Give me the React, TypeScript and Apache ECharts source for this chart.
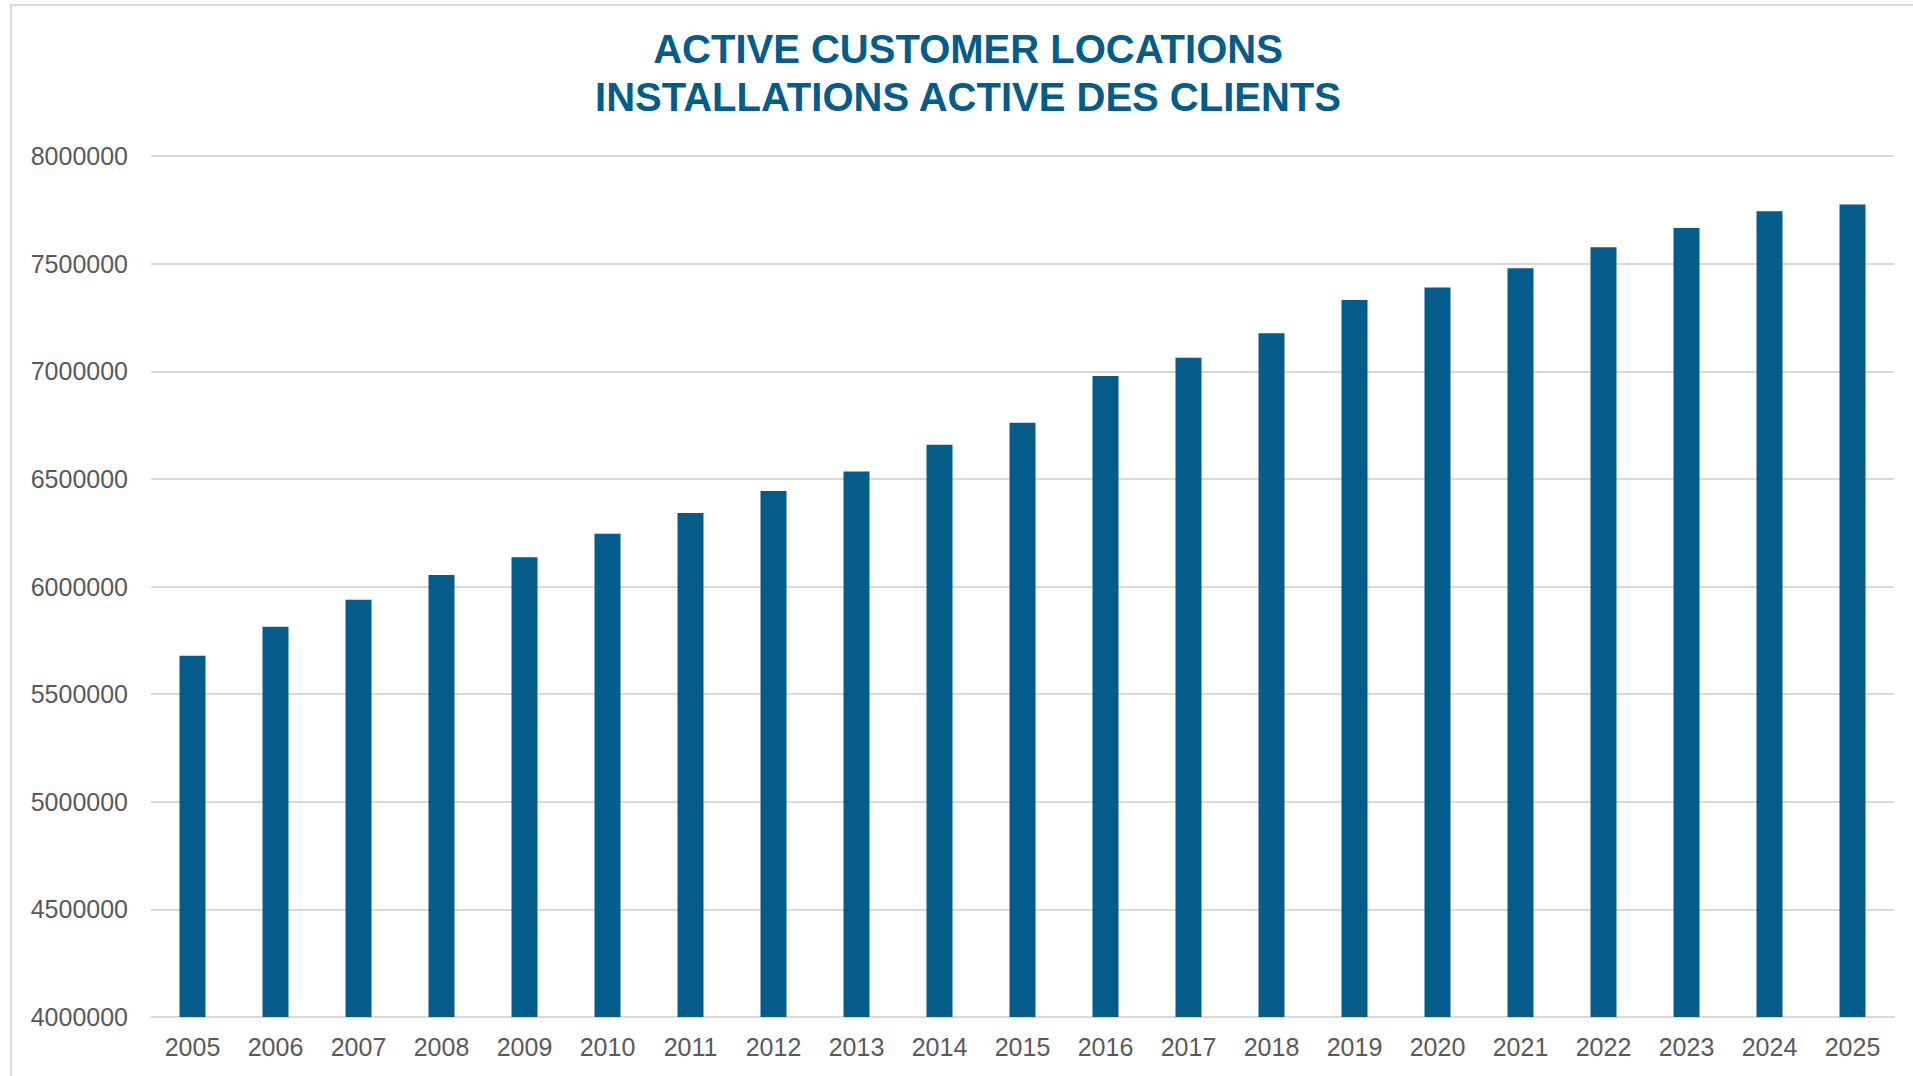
import React, { useEffect, useRef } from "react";
import * as echarts from "echarts";

const years = [
  "2005", "2006", "2007", "2008", "2009", "2010", "2011", "2012", "2013", "2014", "2015",
  "2016", "2017", "2018", "2019", "2020", "2021", "2022", "2023", "2024", "2025",
];
const activeLocations = [
  5678000, 5813000, 5938000, 6053000, 6136000, 6245000, 6342000, 6444000, 6534000, 6658000,
  6761000, 6978000, 7063000, 7177000, 7331000, 7389000, 7479000, 7576000, 7665000, 7743000,
  7775000,
];
const titleLines = ["ACTIVE CUSTOMER LOCATIONS", "INSTALLATIONS ACTIVE DES CLIENTS"];
const yMin = 4000000;
const yMax = 8000000;
const yStep = 500000;

const FONT = "'Liberation Sans', Arial, sans-serif";
const BLUE = "#035C8A";
const GREY_TEXT = "#595959";
const GRID = "#D9D9D9";

export default function App() {
  const ref = useRef<HTMLDivElement>(null);

  useEffect(() => {
    if (!ref.current) return;
    const chart = echarts.init(ref.current, null, { renderer: "svg" });
    chart.setOption({
      animation: false,
      backgroundColor: "#FFFFFF",
      graphic: [
        {
          type: "rect",
          shape: { x: 11, y: 5, width: 1940, height: 1100 },
          style: { fill: "none", stroke: GRID, lineWidth: 2 },
          silent: true,
        },
        {
          type: "text",
          x: 968,
          y: 48.5,
          style: {
            text: titleLines[0],
            fill: BLUE,
            font: `bold 40px ${FONT}`,
            textAlign: "center",
            textVerticalAlign: "middle",
          },
        },
        {
          type: "text",
          x: 968,
          y: 96.5,
          style: {
            text: titleLines[1],
            fill: BLUE,
            font: `bold 40px ${FONT}`,
            textAlign: "center",
            textVerticalAlign: "middle",
          },
        },
      ],
      grid: { left: 151, right: 19, top: 156, bottom: 59, containLabel: false },
      xAxis: {
        type: "category",
        data: years,
        axisTick: { show: false },
        axisLine: { show: true, lineStyle: { color: GRID, width: 2 } },
        axisLabel: {
          color: GREY_TEXT,
          fontFamily: FONT,
          fontSize: 25,
          margin: 17,
          interval: 0,
        },
      },
      yAxis: {
        type: "value",
        min: yMin,
        max: yMax,
        interval: yStep,
        axisLine: { show: false },
        axisTick: { show: false },
        splitLine: { show: true, lineStyle: { color: GRID, width: 2 } },
        axisLabel: {
          color: GREY_TEXT,
          fontFamily: FONT,
          fontSize: 25,
          margin: 23,
          formatter: (v: number) => String(v),
        },
      },
      series: [
        {
          type: "bar",
          data: activeLocations,
          barWidth: 26,
          itemStyle: { color: BLUE },
        },
      ],
    });
    return () => chart.dispose();
  }, []);

  return (
    <div
      ref={ref}
      style={{ position: "fixed", left: 0, top: 0, width: 1913, height: 1076 }}
    />
  );
}
